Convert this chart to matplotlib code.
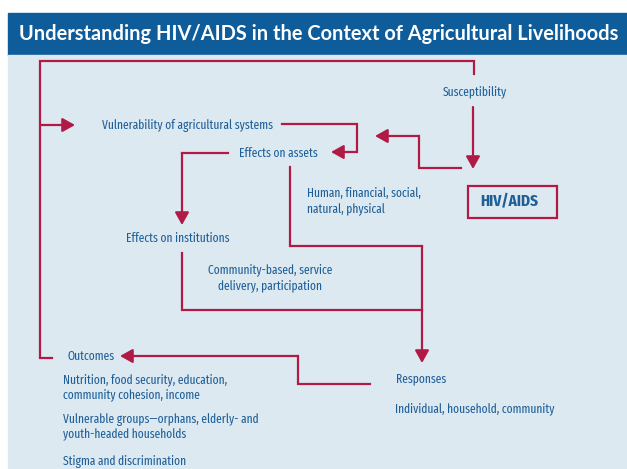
import matplotlib.pyplot as plt
from matplotlib.patches import Rectangle

# === DATA ===
TITLE = "Understanding HIV/AIDS in the Context of Agricultural Livelihoods"
NODE_LABELS = [
    "Vulnerability of agricultural systems",
    "Effects on assets",
    "Effects on institutions",
    "Susceptibility",
    "Outcomes",
    "Responses",
]
NOTE_LABELS = [
    "Human, financial, social,\nnatural, physical",
    "Community-based, service\ndelivery, participation",
    "Individual, household, community",
    "Nutrition, food security, education,\ncommunity cohesion, income",
    "Vulnerable groups\u2014orphans, elderly- and\nyouth-headed households",
    "Stigma and discrimination",
]
BOX_LABEL = "HIV/AIDS"

# === STYLE ===
BLUE = "#0f5c9a"
TEXT = "#1f5f98"
BG = "#dce9f1"
RED = "#b01a45"
NARROW = ["Fira Sans Extra Condensed", "DejaVu Sans"]

fig = plt.figure(figsize=(6.27, 4.69), dpi=100)
ax = fig.add_axes([0, 0, 1, 1])
ax.set_xlim(0, 627)
ax.set_ylim(469, 0)
ax.axis("off")

# panels
ax.add_patch(Rectangle((8, 13), 619, 42, color=BLUE, zorder=0))
ax.add_patch(Rectangle((8, 55), 619, 414, color=BG, zorder=0))
ax.text(319, 34, TITLE, color="white", fontsize=14.4, fontweight="bold",
        family=["Lato", "DejaVu Sans"], ha="center", va="center")


def path(xs, ys, arrow=False):
    if arrow:
        ax.plot(xs[:-1], ys[:-1], color=RED, lw=1.6, solid_joinstyle="miter")
        ax.annotate("", xy=(xs[-1], ys[-1]), xytext=(xs[-2], ys[-2]),
                    arrowprops=dict(arrowstyle="-|>,head_length=0.75,head_width=0.42",
                                    color=RED, lw=1.6, shrinkA=0, shrinkB=0,
                                    mutation_scale=10))
    else:
        ax.plot(xs, ys, color=RED, lw=1.6, solid_joinstyle="miter")


# connectors
path([474, 474, 40, 40, 52], [74, 61, 61, 358, 358])
path([40, 75], [125, 125], arrow=True)
path([282, 357, 357, 331], [124, 124, 152, 152], arrow=True)
path([228, 182, 182], [153, 153, 225], arrow=True)
path([290, 290, 422, 422], [167, 246, 246, 363], arrow=True)
path([182, 182, 422], [253, 310, 310])
path([473, 473], [107, 169], arrow=True)
path([461, 419, 419, 375], [168, 168, 136, 136], arrow=True)
path([370, 298, 298, 120], [384, 384, 356, 356], arrow=True)

# HIV/AIDS box
ax.add_patch(Rectangle((468, 186), 89, 32, fill=False, edgecolor=RED, lw=1.6))
ax.text(509, 202, BOX_LABEL, color=TEXT, fontsize=12, fontweight="bold",
        family=NARROW, ha="center", va="center")

fs = 9
node_pos = [(102, 125, "left"), (239, 153, "left"), (178, 238, "center"),
             (475, 92, "center"), (67, 356, "left"), (396, 379, "left")]
for label, (x, y, ha) in zip(NODE_LABELS, node_pos):
    ax.text(x, y, label, color=TEXT, fontsize=fs, family=NARROW, ha=ha, va="center")

note_pos = [(307, 201, "left"), (270, 278, "center"), (395, 409, "left"),
            (63, 387, "left"), (63, 427, "left"), (63, 461, "left")]
for label, (x, y, ha) in zip(NOTE_LABELS, note_pos):
    ax.text(x, y, label, color=TEXT, fontsize=fs, family=NARROW, ha=ha, va="center",
            multialignment=ha, linespacing=1.3)

fig.savefig("out.png", dpi=100)
